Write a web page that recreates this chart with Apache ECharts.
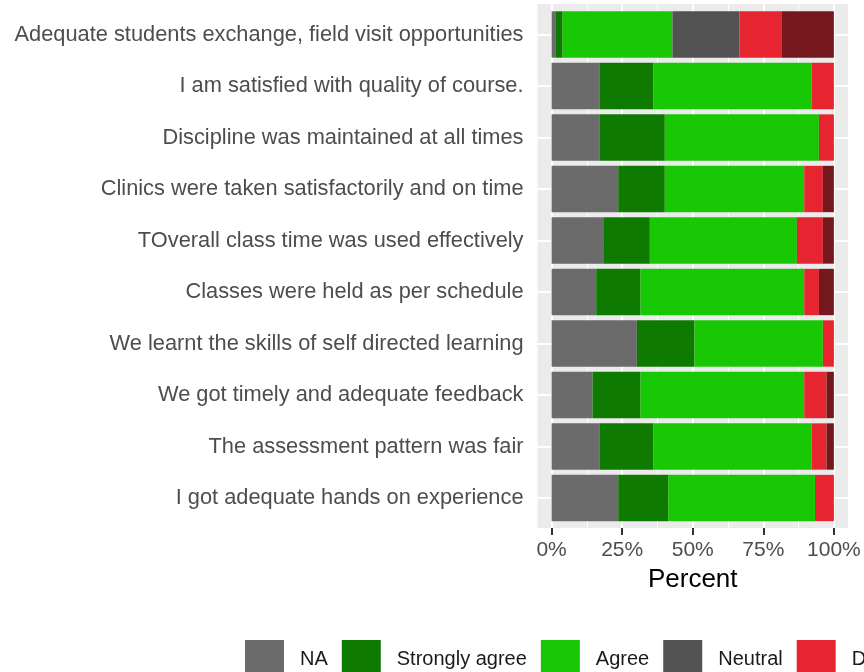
<!DOCTYPE html>
<html>
<head>
<meta charset="utf-8">
<script src="https://cdn.jsdelivr.net/npm/echarts@6/dist/echarts.min.js"></script>
<style>
html,body{margin:0;padding:0;background:#fff;}
#chart{width:864px;height:672px;}
</style>
</head>
<body>
<div id="chart"></div>
<script>
const categories = [
  "Adequate students exchange, field visit opportunities",
  "I am satisfied with quality of course.",
  "Discipline was maintained at all times",
  "Clinics were taken satisfactorily and on time",
  "TOverall class time was used effectively",
  "Classes were held as per schedule",
  "We learnt the skills of self directed learning",
  "We got timely and adequate feedback",
  "The assessment pattern was fair",
  "I got adequate hands on experience"
];
const seriesNames = ["NA", "Strongly agree", "Agree", "Neutral", "Disagree", "Strongly disagree"];
const naVals       = [1.3, 17.1, 17.1, 23.6, 18.3, 15.8, 30.2, 14.5, 17.1, 23.6];
const strAgreeVals = [2.6, 19.0, 23.0, 16.5, 16.5, 15.7, 20.4, 17.0, 19.0, 17.8];
const agreeVals    = [38.9, 56.0, 54.6, 49.4, 52.1, 58.0, 45.5, 58.0, 56.0, 51.9];
const neutralVals  = [23.7, 0, 0, 0, 0, 0, 0, 0, 0, 0];
const disagreeVals = [15.1, 7.9, 5.3, 6.6, 9.2, 5.2, 3.9, 7.9, 5.3, 6.7];
const strDisVals   = [18.4, 0, 0, 3.9, 3.9, 5.3, 0, 2.6, 2.6, 0];
const xTicks = [0, 25, 50, 75, 100];
const xMinor = [12.5, 37.5, 62.5, 87.5];

const colors = ["#6b6b6b", "#0f7a00", "#19c805", "#525252", "#e62530", "#74181d"];
const values = [naVals, strAgreeVals, agreeVals, neutralVals, disagreeVals, strDisVals];
const FONT = "'Liberation Sans', Arial, Helvetica, sans-serif";

const chart = echarts.init(document.getElementById('chart'), null, {renderer: 'canvas'});

const barSeries = seriesNames.map((n, i) => ({
  name: n,
  type: 'bar',
  stack: 'total',
  xAxisIndex: 1,
  yAxisIndex: 1,
  barWidth: '90%',
  data: values[i],
  itemStyle: {color: colors[i]},
  z: 3,
  silent: true
}));

const option = {
  animation: false,
  backgroundColor: '#ffffff',
  textStyle: {fontFamily: FONT},
  grid: [
    {left: 537.5, right: 16, top: 4, bottom: 144, show: true, backgroundColor: '#ebebeb', borderWidth: 0, containLabel: false},
    {left: 537.5, right: 16, top: 8.75, bottom: 148.25, show: false, containLabel: false}
  ],
  xAxis: [
    {
      type: 'value', gridIndex: 0, min: -5, max: 105,
      axisLine: {show: false},
      splitLine: {show: false},
      axisTick: {show: true, customValues: xTicks, length: 7, lineStyle: {color: '#333333', width: 2}},
      axisLabel: {customValues: xTicks, formatter: v => v + '%', fontSize: 21, color: '#4d4d4d', margin: 12, fontFamily: FONT},
      name: 'Percent', nameLocation: 'middle', nameGap: 39,
      nameTextStyle: {fontSize: 26, color: '#000000', fontFamily: FONT}
    },
    {type: 'value', gridIndex: 1, min: -5, max: 105, show: false}
  ],
  yAxis: [
    {type: 'value', gridIndex: 0, min: 0, max: 1, show: false},
    {
      type: 'category', gridIndex: 1, data: categories, inverse: true,
      axisLine: {show: false},
      splitLine: {show: false},
      axisTick: {show: true, alignWithLabel: true, length: 7, lineStyle: {color: '#333333', width: 2}},
      axisLabel: {fontSize: 21.8, color: '#4d4d4d', margin: 14, fontFamily: FONT, padding: [4, 0, 0, 0]}
    }
  ],
  legend: {
    data: seriesNames,
    left: 245, top: 640, width: 3000, padding: 0,
    orient: 'horizontal',
    itemWidth: 39, itemHeight: 39, itemGap: 14,
    icon: 'rect',
    textStyle: {fontSize: 20, color: '#1a1a1a', fontFamily: FONT, padding: [0, 0, 0, 11]},
    selectedMode: false
  },
  series: [
    {
      type: 'scatter', xAxisIndex: 0, yAxisIndex: 0, data: [[50, 0.5]], symbolSize: 0, silent: true, z: 1,
      markLine: {
        silent: true, symbol: 'none', animation: false, z: 1,
        label: {show: false},
        data: xMinor.map(v => ({xAxis: v, lineStyle: {color: '#ffffff', width: 1, type: 'solid'}}))
          .concat(xTicks.map(v => ({xAxis: v, lineStyle: {color: '#ffffff', width: 2, type: 'solid'}})))
      }
    },
    {
      type: 'scatter', xAxisIndex: 1, yAxisIndex: 1, data: [[50, 0]], symbolSize: 0, silent: true, z: 1,
      markLine: {
        silent: true, symbol: 'none', animation: false, z: 1,
        label: {show: false},
        data: categories.map((c, i) => ({yAxis: i, lineStyle: {color: '#ffffff', width: 2, type: 'solid'}}))
      }
    }
  ].concat(barSeries)
};
chart.setOption(option);
</script>
</body>
</html>
